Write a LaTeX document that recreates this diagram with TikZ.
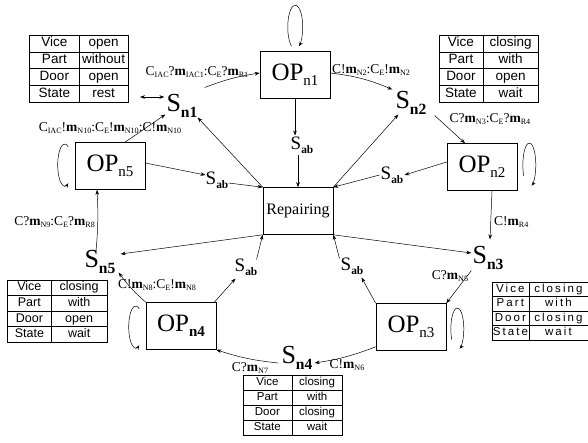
\documentclass[tikz,border=0pt]{standalone}
\usepackage{fontspec}
\setmainfont{Liberation Serif}
\newfontfamily\tabfont{Liberation Sans}
\newfontfamily\tabfontsp[LetterSpace=18]{Liberation Sans}
\usetikzlibrary{arrows.meta,calc,matrix}
\newcommand{\subx}[1]{\raisebox{-0.45ex}{\scalebox{0.6}{#1}}}
\newcommand{\mmb}{\textbf{m}}
\begin{document}
\begin{tikzpicture}[x=1pt,y=-1pt,
  opbox/.style={draw, line width=0.6pt, minimum width=70pt, minimum height=47pt, inner sep=0pt, font=\fontsize{25}{25}\selectfont},
  snode/.style={inner sep=1pt, font=\fontsize{26}{26}\selectfont},
  sabnode/.style={inner sep=1pt, font=\fontsize{19}{19}\selectfont},
  lbl/.style={inner sep=0pt, font=\fontsize{13.5}{13.5}\selectfont},
  arr/.style={-{Stealth[length=5pt,width=3.6pt]}, line width=0.5pt},
  loopar/.style={-{Stealth[length=4.5pt,width=3.4pt]}, line width=0.5pt},
  tbl/.style={matrix of nodes, inner sep=0pt, column sep=-0.5pt, row sep=-0.5pt,
     nodes={draw, line width=0.5pt, inner sep=0pt, anchor=center}}
]
\useasboundingbox (0,0) rectangle (588,442);

% operation boxes
\node[opbox] (op1) at (295,75) {OP\subx{n1}};
\node[opbox] (op2) at (482,167) {OP\subx{n2}};
\node[opbox] (op3) at (411,327) {OP\subx{n3}};
\node[opbox] (op4) at (181,326) {OP\subx{\bfseries n4}};
\node[opbox] (op5) at (110,166) {OP\subx{n5}};
\node[draw, line width=0.6pt, minimum width=70pt, minimum height=47pt, inner sep=0pt,
      font=\fontsize{16}{16}\selectfont] (rep) at (298,211) {Repairing};

% states
\node[snode] (sn1) at (182,106) {S\subx{\bfseries n1}};
\node[snode] (sn2) at (411,103) {S\subx{\bfseries n2}};
\node[snode] (sn3) at (488,258) {S\subx{\bfseries n3}};
\node[snode] (sn4) at (297,358) {S\subx{\bfseries n4}};
\node[snode] (sn5) at (100,262) {S\subx{\bfseries n5}};

% abort states
\node[sabnode] (sab1) at (302,145) {S\subx{\bfseries ab}};
\node[sabnode] (sab2) at (392,175) {S\subx{\bfseries ab}};
\node[sabnode] (sab3) at (352,266) {S\subx{\bfseries ab}};
\node[sabnode] (sab4) at (246,267) {S\subx{\bfseries ab}};
\node[sabnode] (sab5) at (217,180) {S\subx{\bfseries ab}};

% labels
\node[lbl] (l1) at (197,72) {C\subx{IAC}?\mmb\subx{IAC1}:C\subx{E}?\mmb\subx{R1}};
\node[lbl] (l2) at (371,70) {C!\mmb\subx{N2}:C\subx{E}!\mmb\subx{N2}};
\node[lbl] (l3) at (490,119) {C?\mmb\subx{N3}:C\subx{E}?\mmb\subx{R4}};
\node[lbl, anchor=west] (l4) at (494,222) {C!\mmb\subx{R4}};
\node[lbl] (l5) at (450,276) {C?\mmb\subx{N5}};
\node[lbl] (l6) at (347,365) {C!\mmb\subx{N6}};
\node[lbl] (l7) at (250,368) {C?\mmb\subx{N7}};
\node[lbl] (l8) at (157,285) {C!\mmb\subx{N8}:C\subx{E}!\mmb\subx{N8}};
\node[lbl, anchor=east] (l9) at (95,222) {C?\mmb\subx{N9}:C\subx{E}?\mmb\subx{R8}};
\node[lbl] (l10) at (110,128) {C\subx{IAC}!\mmb\subx{N10}:C\subx{E}!\mmb\subx{N10}:C!\mmb\subx{N10}};

% tables
\matrix (t1) at (79,68.5) [tbl, nodes={minimum height=16.75pt, minimum width=49.25pt, text height=9.8pt, text depth=2.9pt, font=\tabfont\fontsize{13.5}{13.5}\selectfont}]
 {Vice & open\\ Part & without\\ Door & open\\ State & rest\\};
\matrix (t2) at (488.5,68.5) [tbl, nodes={minimum height=16.75pt, text height=9.8pt, text depth=2.9pt, font=\tabfont\fontsize{13.5}{13.5}\selectfont},
   column 1/.style={nodes={minimum width=44.25pt}}, column 2/.style={nodes={minimum width=55.25pt}}]
 {Vice & closing\\ Part & with\\ Door & open\\ State & wait\\};
\matrix (t3) at (539.75,311) [tbl, nodes={minimum height=14.6pt, text height=8.4pt, text depth=2.4pt, font=\tabfontsp\fontsize{11.5}{11.5}\selectfont},
   column 1/.style={nodes={minimum width=37.25pt}}, column 2/.style={nodes={minimum width=58.75pt}}]
 {Vice & closing\\ Part & with\\ Door & closing\\ State & wait\\};
\matrix (t4) at (57.5,311) [tbl, nodes={minimum height=15.6pt, text height=9.1pt, text depth=2.7pt, font=\tabfont\fontsize{12.5}{12.5}\selectfont},
   column 1/.style={nodes={minimum width=43.25pt}}, column 2/.style={nodes={minimum width=56.25pt}}]
 {Vice & closing\\ Part & with\\ Door & open\\ State & wait\\};
\matrix (t5) at (292.5,405) [tbl, nodes={minimum height=15.1pt, text height=8.4pt, text depth=2.4pt, font=\tabfont\fontsize{11.5}{11.5}\selectfont},
   column 1/.style={nodes={minimum width=49.25pt}}, column 2/.style={nodes={minimum width=50.25pt}}]
 {Vice & closing\\ Part & with\\ Door & closing\\ State & wait\\};

% table <-> S_n1
\coordinate (dA) at (140,97);
\draw[{Stealth[length=5pt,width=3.6pt]}-{Stealth[length=5pt,width=3.6pt]}, line width=0.5pt] (dA) -- ($(sn1.west)+(-1,-9)$);

% cycle arrows
\draw[arr] ($(sn1.north east)+(6,-6)$) to[bend left=6] ($(op1.west)+(0,-2)$);
\draw[arr] ($(op1.east)+(0,-2)$) to[bend left=8] ($(sn2.north west)+(-2,-1)$);
\draw[arr] ($(sn2.south east)+(7,0)$) -- ($(op2.north)+(-17,0)$);
\draw[arr] ($(op2.south)+(10,0)$) -- ($(sn3.north)+(2,-6)$);
\draw[arr] ($(sn3.south west)+(0,0)$) -- (op3.north east);
\draw[arr] ($(op3.south west)+(0,-4)$) to[bend left=6] ($(sn4.east)+(1,5)$);
\draw[arr] ($(sn4.west)+(-2,5)$) to[bend left=6] (op4.south east);
\draw[arr] (op4.north west) to[bend left=6] ($(sn5.south east)+(2,-2)$);
\draw[arr] ($(sn5.north)+(-4,2)$) to[bend right=4] ($(op5.south)+(-13,0)$);
\draw[arr] ($(op5.north)+(15,0)$) -- ($(sn1.south west)+(0,-4)$);

% repairing to states
\draw[arr] (rep.north west) -- ($(sn1.south east)+(-1,-1)$);
\draw[arr] (rep.north east) -- ($(sn2.south west)+(4,-1)$);
\draw[arr] (rep.south east) -- ($(sn3.west)+(0,-5)$);
\draw[arr] (rep.south west) -- ($(sn5.east)+(4,-8)$);

% operations to abort states and abort states to repairing
\draw[arr] (op1.south) -- (op1.south |- sab1.north);
\draw[arr] (rep.north |- sab1.south) -- (rep.north);
\draw[arr] ($(op2.west)+(0,-5)$) -- (sab2.east);
\draw[arr] (sab2.west) -- (rep.north east);
\draw[arr] (op3.north west) -- ($(sab3.south east)+(-3,2)$);
\draw[arr] ($(sab3.north west)+(0,2)$) -- (rep.south east);
\draw[arr] ($(op4.north east)+(-2,0)$) -- ($(sab4.south west)+(2,2)$);
\draw[arr] ($(sab4.north east)+(-2,2)$) -- (rep.south west);
\draw[arr] ($(op5.east)+(0,-3)$) -- ($(sab5.west)+(1,-5)$);
\draw[arr] ($(sab5.east)+(-1,3)$) -- (rep.north west);

% self loops (thin ellipses, open near the box); angles are visual (canvas) angles
\draw[loopar] ($(op1.north)+(-3.5,-5)$) arc[start angle=240, end angle=-60, x radius=7.5pt, y radius=22pt];
\draw[loopar] ($(op2.east)+(6.4,9)$) arc[start angle=210, end angle=-70, x radius=6.5pt, y radius=22pt];
\draw[loopar] ($(op3.east)+(5.4,12.5)$) arc[start angle=210, end angle=-70, x radius=6.5pt, y radius=21pt];
\draw[loopar] ($(op4.west)+(-6.5,-17.2)$) arc[start angle=60, end angle=300, x radius=7pt, y radius=21pt];
\draw[loopar] ($(op5.west)+(-6.5,-19.2)$) arc[start angle=60, end angle=300, x radius=7pt, y radius=21pt];
\end{tikzpicture}
\end{document}
